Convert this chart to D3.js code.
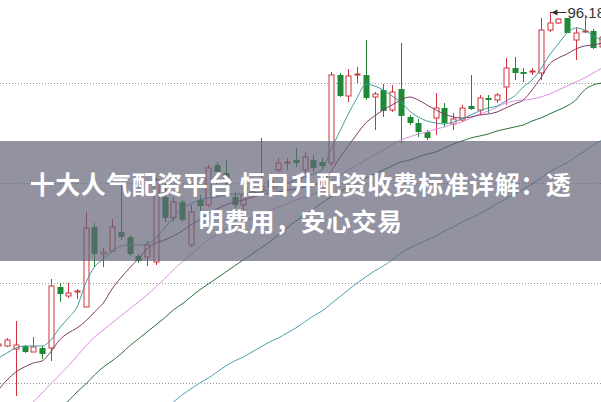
<!DOCTYPE html>
<html><head><meta charset="utf-8">
<script src="https://cdn.jsdelivr.net/npm/d3@7"></script>
<style>html,body{margin:0;padding:0;background:#fff;overflow:hidden}</style>
</head><body><svg id="c" width="601" height="402"></svg>
<script>
// ---- data (first entry is the partially visible candle at the left edge) ----
const firstIndex = -1;
const open  = [62.78,62.78,62.48,62.78,62.18,62.58,62.58,68.68,67.78,68.18,66.68,74.68,71.98,72.28,74.18,73.68,71.78,71.68,71.18,77.68,75.58,77.18,72.88,77.38,76.88,80.88,80.08,77.68,76.88,77.88,78.38,79.38,80.38,81.08,81.38,80.38,81.38,81.18,81.08,89.88,87.78,89.88,89.88,87.68,88.38,86.38,88.48,85.68,85.08,84.18,85.58,86.58,84.98,85.38,86.78,86.38,87.58,87.38,88.68,90.58,90.18,90.18,90.08,94.38,95.08,95.58,93.38,94.18,94.28,92.68];
const high  = [63.08,63.58,65.28,62.88,63.68,62.78,69.48,69.08,69.08,68.48,76.18,75.08,72.58,75.48,78.88,73.88,71.98,73.28,79.58,79.08,77.68,77.38,76.88,77.88,80.88,81.18,81.38,78.18,78.18,78.58,83.58,79.88,81.58,81.58,82.58,82.18,81.88,81.58,90.18,90.08,90.48,90.68,93.38,88.18,88.98,88.88,93.08,85.88,85.48,84.38,88.08,87.08,86.08,86.88,89.88,87.88,87.88,88.08,91.58,91.68,90.58,90.58,95.58,96.18,95.58,95.58,94.68,95.88,94.48,93.88];
const low   = [62.68,62.68,57.78,62.08,62.18,61.48,61.28,67.18,67.58,67.48,66.68,70.68,70.68,72.28,73.38,71.78,71.08,70.78,70.88,75.18,75.18,75.18,72.68,75.88,76.68,79.68,78.88,76.58,76.38,77.68,78.18,78.18,80.18,80.38,80.68,80.08,80.18,80.38,80.78,87.68,87.18,89.08,87.38,84.38,85.68,86.18,83.08,84.88,83.68,83.38,83.88,84.68,84.38,85.18,86.38,85.88,86.08,87.08,86.88,89.38,89.18,89.88,89.38,94.18,94.98,94.08,91.38,94.08,92.48,92.48];
const close = [62.98,63.38,62.88,62.18,62.68,61.98,68.78,67.98,68.08,68.28,74.58,71.98,72.18,74.68,73.68,71.98,71.28,72.88,79.38,75.58,77.18,75.38,76.18,76.78,80.58,80.18,79.58,76.88,77.88,78.18,78.78,78.58,81.08,81.18,81.08,81.68,80.58,80.78,89.88,87.78,89.78,89.98,87.58,87.98,86.28,88.18,85.78,85.08,84.18,83.58,86.58,85.08,85.48,86.58,86.48,87.58,87.38,87.88,90.58,90.08,89.98,90.28,94.38,95.08,95.48,94.08,94.08,94.28,92.58,93.68];

// moving-average lines
const ma5   = [61.58,62.08,62.58,62.78,62.78,62.78,63.38,64.58,65.58,66.68,69.08,70.68,71.48,72.18,72.78,72.88,72.88,72.98,73.58,74.58,75.58,76.58,76.98,77.38,77.58,77.68,77.88,77.98,77.98,78.08,78.18,78.38,78.78,79.08,79.38,79.68,79.98,80.38,82.38,84.18,85.98,87.58,88.98,88.78,88.38,87.78,87.18,86.28,85.68,85.28,85.08,84.98,85.18,85.48,85.88,86.28,86.58,86.78,87.28,87.78,88.68,89.38,90.48,91.88,92.98,94.08,94.58,94.38,93.78,93.38];
const ma10  = [58.38,59.38,60.18,60.68,61.08,61.28,62.18,63.38,64.08,64.58,65.28,66.18,67.08,68.48,69.58,70.58,71.48,72.48,73.08,73.38,73.78,74.28,74.88,75.38,75.98,76.48,76.88,77.18,77.38,77.68,77.88,78.08,78.18,78.38,78.48,78.68,78.88,79.18,80.18,81.58,82.78,83.98,85.08,85.78,86.38,86.88,87.38,87.68,87.38,86.88,86.38,85.98,85.68,85.58,85.68,85.88,85.98,86.18,86.58,86.98,87.38,88.38,89.58,90.98,91.58,91.98,92.48,92.78,92.88,93.08];
const ma20  = [53.38,54.18,55.18,56.18,57.18,58.08,58.98,59.88,60.78,61.78,62.78,63.68,64.38,65.08,65.78,66.48,67.18,67.88,68.68,69.48,70.38,71.18,71.88,72.68,73.38,73.98,74.48,74.78,75.18,75.58,75.98,76.28,76.68,76.98,77.38,77.68,77.98,78.38,79.18,79.78,80.38,80.88,81.38,81.88,82.38,82.88,83.38,83.68,83.98,84.18,84.48,84.68,84.98,85.18,85.58,85.98,86.28,86.68,87.08,87.28,87.38,87.48,87.68,87.98,88.38,88.78,89.18,89.58,90.08,90.58];
const ma60  = [51.58,52.28,52.98,53.78,54.48,55.28,55.98,56.68,57.28,58.18,58.98,59.88,60.68,61.28,61.98,62.78,63.48,64.18,64.88,65.58,66.38,66.98,67.68,68.38,68.98,69.58,70.18,70.78,71.38,71.98,72.58,73.18,73.88,74.58,75.28,75.88,76.48,77.08,77.68,78.18,78.68,79.18,79.58,79.98,80.38,80.78,81.18,81.38,81.68,81.98,82.18,82.58,82.98,83.28,83.58,83.78,83.98,84.28,84.48,84.68,84.88,85.28,85.58,85.98,86.38,86.78,87.38,88.38,88.88,89.08];
const ma120 = [null,null,null,null,null,null,null,null,null,null,null,null,null,null,null,54.18,54.78,55.38,55.98,56.58,57.18,57.88,58.48,59.08,59.58,60.18,60.78,61.28,61.68,62.18,62.68,63.18,63.58,64.08,64.58,65.18,65.78,66.28,66.98,67.68,68.38,69.08,69.68,70.28,70.78,71.38,72.08,72.58,72.98,73.38,73.78,74.28,74.68,75.18,75.58,75.98,76.48,76.98,77.48,77.98,78.48,78.98,79.58,80.18,80.68,81.08,81.68,82.28,82.88,83.38];

const gridValues = [89.08, 79.08, 69.08, 59.08];
const maxLabel = "96.18";
const titleLines = ["十大人气配资平台 恒日升配资收费标准详解：透", "明费用，安心交易"];

// ---- drawing ----
const W = 601, H = 402;
const svg = d3.select("#c");
const n = open.length;
const idx = d3.range(firstIndex, firstIndex + n);
const x = d3.scaleLinear().domain([-1, 68]).range([-1.75, 602]);
const y = d3.scaleLinear().domain([57.18, 97.38]).range([H, 0]);

const UP = "#d0333b", DOWN = "#1f8a35";

// grid
svg.append("g").selectAll("line").data(gridValues).join("line")
  .attr("x1", 0).attr("x2", W)
  .attr("y1", d => Math.round(y(d)) + 0.5).attr("y2", d => Math.round(y(d)) + 0.5)
  .attr("stroke", "#9a9a9a").attr("stroke-width", 1).attr("stroke-dasharray", "1,2");

// candles
const candles = idx.map((k, i) => ({k, o: open[i], h: high[i], l: low[i], c: close[i]}));
const g = svg.append("g");
const bw = 6;
candles.forEach(d => {
  const cx = Math.round(x(d.k)) + 0.5;
  const up = d.c >= d.o;
  const col = up ? UP : DOWN;
  g.append("line").attr("x1", cx).attr("x2", cx)
    .attr("y1", y(d.h)).attr("y2", y(d.l)).attr("stroke", col).attr("stroke-width", 1);
  const top = y(Math.max(d.o, d.c)), bot = y(Math.min(d.o, d.c));
  if (up) {
    g.append("rect").attr("x", cx - bw/2 + 0.5).attr("y", top).attr("width", bw - 1)
      .attr("height", Math.max(bot - top, 1)).attr("fill", "#fff").attr("stroke", col).attr("stroke-width", 1);
  } else {
    g.append("rect").attr("x", cx - bw/2).attr("y", top).attr("width", bw)
      .attr("height", Math.max(bot - top, 1.2)).attr("fill", col);
  }
});

// moving average lines
const series = [
  {v: ma120, c: "#4f9db3"},
  {v: ma60,  c: "#2c7039"},
  {v: ma20,  c: "#e08ee6"},
  {v: ma10,  c: "#7d3c68"},
  {v: ma5,   c: "#3f9da0"}
];
const line = d3.line().defined(d => d[1] != null).x(d => x(d[0])).y(d => y(d[1])).curve(d3.curveMonotoneX);
series.forEach(s => {
  svg.append("path").datum(idx.map((k, i) => [k, s.v[i]]))
    .attr("d", line).attr("fill", "none").attr("stroke", s.c).attr("stroke-width", 1);
});

// max marker
const mi = d3.maxIndex(high);
const mx = Math.round(x(idx[mi])) + 0.5, my = Math.round(y(high[mi])) + 0.5;
svg.append("line").attr("x1", mx).attr("x2", mx + 16).attr("y1", my).attr("y2", my)
  .attr("stroke", "#333").attr("stroke-width", 1);
svg.append("path").attr("d", `M${mx+1},${my} L${mx+7},${my-3} L${mx+7},${my+3} Z`).attr("fill", "#333");
svg.append("text").attr("x", mx + 17).attr("y", my + 5)
  .attr("font-family", "Liberation Sans, Arial, sans-serif").attr("font-size", 15)
  .attr("fill", "#333").text(maxLabel);

// overlay banner
svg.append("rect").attr("x", 0).attr("y", 141).attr("width", W).attr("height", 120)
  .attr("fill", "rgb(100,100,120)").attr("fill-opacity", 0.7);
svg.selectAll("text.t").data(titleLines).join("text").attr("class", "t")
  .attr("x", W / 2).attr("y", (d, i) => 183 + i * 37)
  .attr("text-anchor", "middle").attr("dominant-baseline", "central")
  .attr("font-family", "Noto Sans CJK SC, sans-serif").attr("font-weight", "bold")
  .attr("font-size", 25).attr("letter-spacing", 0.5).attr("fill", "#fff").text(d => d);
</script>
</body></html>
